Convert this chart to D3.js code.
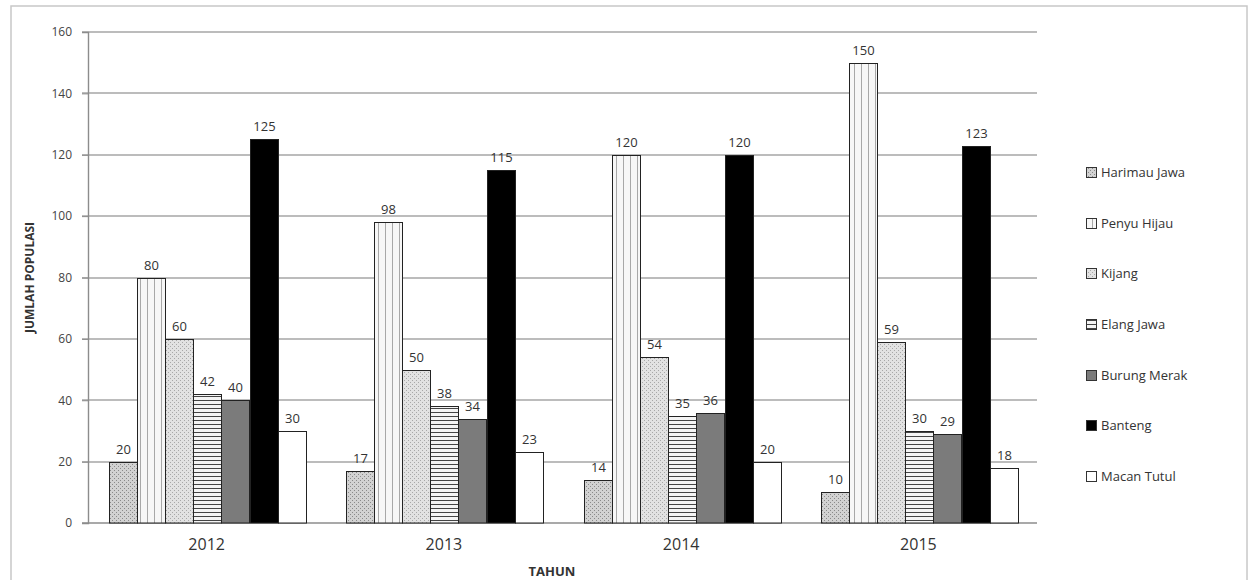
<!DOCTYPE html>
<html><head><meta charset="utf-8">
<script src="https://cdn.jsdelivr.net/npm/d3@7/dist/d3.min.js"></script>
<style>body{margin:0;background:#fff;}svg{display:block;font-family:"Open Sans","DejaVu Sans",sans-serif;}</style>
</head><body>
<svg id="c" width="1250" height="580"></svg>
<script>
const years = ["2012","2013","2014","2015"];
const series = ["Harimau Jawa","Penyu Hijau","Kijang","Elang Jawa","Burung Merak","Banteng","Macan Tutul"];
const harimauJawa = [20,17,14,10];
const penyuHijau = [80,98,120,150];
const kijang = [60,50,54,59];
const elangJawa = [42,38,35,30];
const burungMerak = [40,34,36,29];
const banteng = [125,115,120,123];
const macanTutul = [30,23,20,18];
const yTicks = [0,20,40,60,80,100,120,140,160];
const values = [harimauJawa,penyuHijau,kijang,elangJawa,burungMerak,banteng,macanTutul];

(function(){
const svg = d3.select("#c");
const defs = svg.append("defs");
function dots(id, bg, fg){
  const p = defs.append("pattern").attr("id",id).attr("patternUnits","userSpaceOnUse").attr("width",4).attr("height",4);
  p.append("rect").attr("width",4).attr("height",4).attr("fill",bg);
  [[0,0],[2,2]].forEach(([dx,dy]) => p.append("rect").attr("x",dx).attr("y",dy).attr("width",1).attr("height",1).attr("fill",fg));
}
dots("pHar","#d2d2d2","#8a8a8a");
dots("pKij","#e2e2e2","#a8a8a8");
const pv = defs.append("pattern").attr("id","pPen").attr("patternUnits","userSpaceOnUse").attr("width",7).attr("height",4);
pv.append("rect").attr("width",7).attr("height",4).attr("fill","#f7f7f7");
pv.append("rect").attr("x",0).attr("width",1).attr("height",4).attr("fill","#a8a8a8");
const ph = defs.append("pattern").attr("id","pEla").attr("patternUnits","userSpaceOnUse").attr("width",4).attr("height",4);
ph.append("rect").attr("width",4).attr("height",4).attr("fill","#f4f4f4");
ph.append("rect").attr("y",0).attr("width",4).attr("height",1).attr("fill","#444");
const fills = ["url(#pHar)","url(#pPen)","url(#pKij)","url(#pEla)","#7b7b7b","#000","#fff"];

svg.append("rect").attr("x",11).attr("y",6).attr("width",1236).attr("height",580).attr("fill","none").attr("stroke","#c8c8c8").attr("stroke-width",1.5);

const mLeft = 88, mRight = 1037, mTop = 32, mBottom = 523;
const y = d3.scaleLinear().domain([0,160]).range([mBottom, mTop]);
const x0 = d3.scaleBand().domain(years).range([mLeft, mRight]);
const x1 = d3.scaleBand().domain(series).range([21, x0.bandwidth()-20]).paddingInner(0.02);

svg.append("g").selectAll("line").data(yTicks.filter(d=>d>0)).join("line")
  .attr("x1",mLeft-6).attr("x2",mRight).attr("y1",d=>Math.round(y(d))).attr("y2",d=>Math.round(y(d)))
  .attr("stroke","#a6a6a6").attr("stroke-width",1.6);

const yAxis = svg.append("g").attr("transform",`translate(${mLeft},0)`)
  .call(d3.axisLeft(y).tickValues(yTicks).tickSize(6).tickPadding(10));
yAxis.select(".domain").attr("stroke","#8c8c8c").attr("stroke-width",1.4);
yAxis.selectAll(".tick line").attr("stroke","#8c8c8c");
yAxis.selectAll("text").attr("font-size",12).attr("fill","#444").attr("font-family","Open Sans, sans-serif");

const xAxis = svg.append("g").attr("transform",`translate(0,${mBottom})`)
  .call(d3.axisBottom(x0).tickSize(0).tickPadding(16));
xAxis.select(".domain").attr("stroke","#8c8c8c").attr("stroke-width",1.4).attr("d",`M${mLeft-6},0H${mRight}`);
xAxis.selectAll("text").attr("font-size",16).attr("fill","#333").attr("font-family","Open Sans, sans-serif");

const g = svg.append("g");
years.forEach((yr, yi) => {
  const gx = Math.round(x0(yr));
  series.forEach((s, si) => {
    const v = values[si][yi];
    const bx = Math.round(gx + x1(s)) + 0.5;
    const bw = Math.round(x1.bandwidth());
    const by = Math.round(y(v)) + 0.5;
    g.append("rect").attr("x",bx).attr("width",bw)
      .attr("y",by).attr("height",mBottom - by)
      .attr("fill",fills[si]).attr("stroke","#222").attr("stroke-width",1);
    g.append("text").attr("x",bx+bw/2).attr("y",by-9)
      .attr("text-anchor","middle").attr("font-size",13).attr("fill","#333").text(v);
  });
});

svg.append("text").attr("transform",`translate(34,${(mTop+mBottom)/2}) rotate(-90)`)
  .attr("text-anchor","middle").attr("font-size",12).attr("font-weight","bold").attr("fill","#333").text("JUMLAH POPULASI");
svg.append("text").attr("x",552).attr("y",576).attr("text-anchor","middle")
  .attr("font-size",13).attr("font-weight","bold").attr("fill","#333").text("TAHUN");

const ly = d3.scalePoint().domain(series).range([172, 476]);
const lg = svg.append("g");
series.forEach((s, si) => {
  const yy = Math.round(ly(s));
  lg.append("rect").attr("x",1086.5).attr("y",yy-4.5).attr("width",10).attr("height",10)
    .attr("fill",fills[si]).attr("stroke","#333").attr("stroke-width",1);
  lg.append("text").attr("x",1101).attr("y",yy+5).attr("font-size",13).attr("fill","#333").text(s);
});
})();
</script>
</body></html>
